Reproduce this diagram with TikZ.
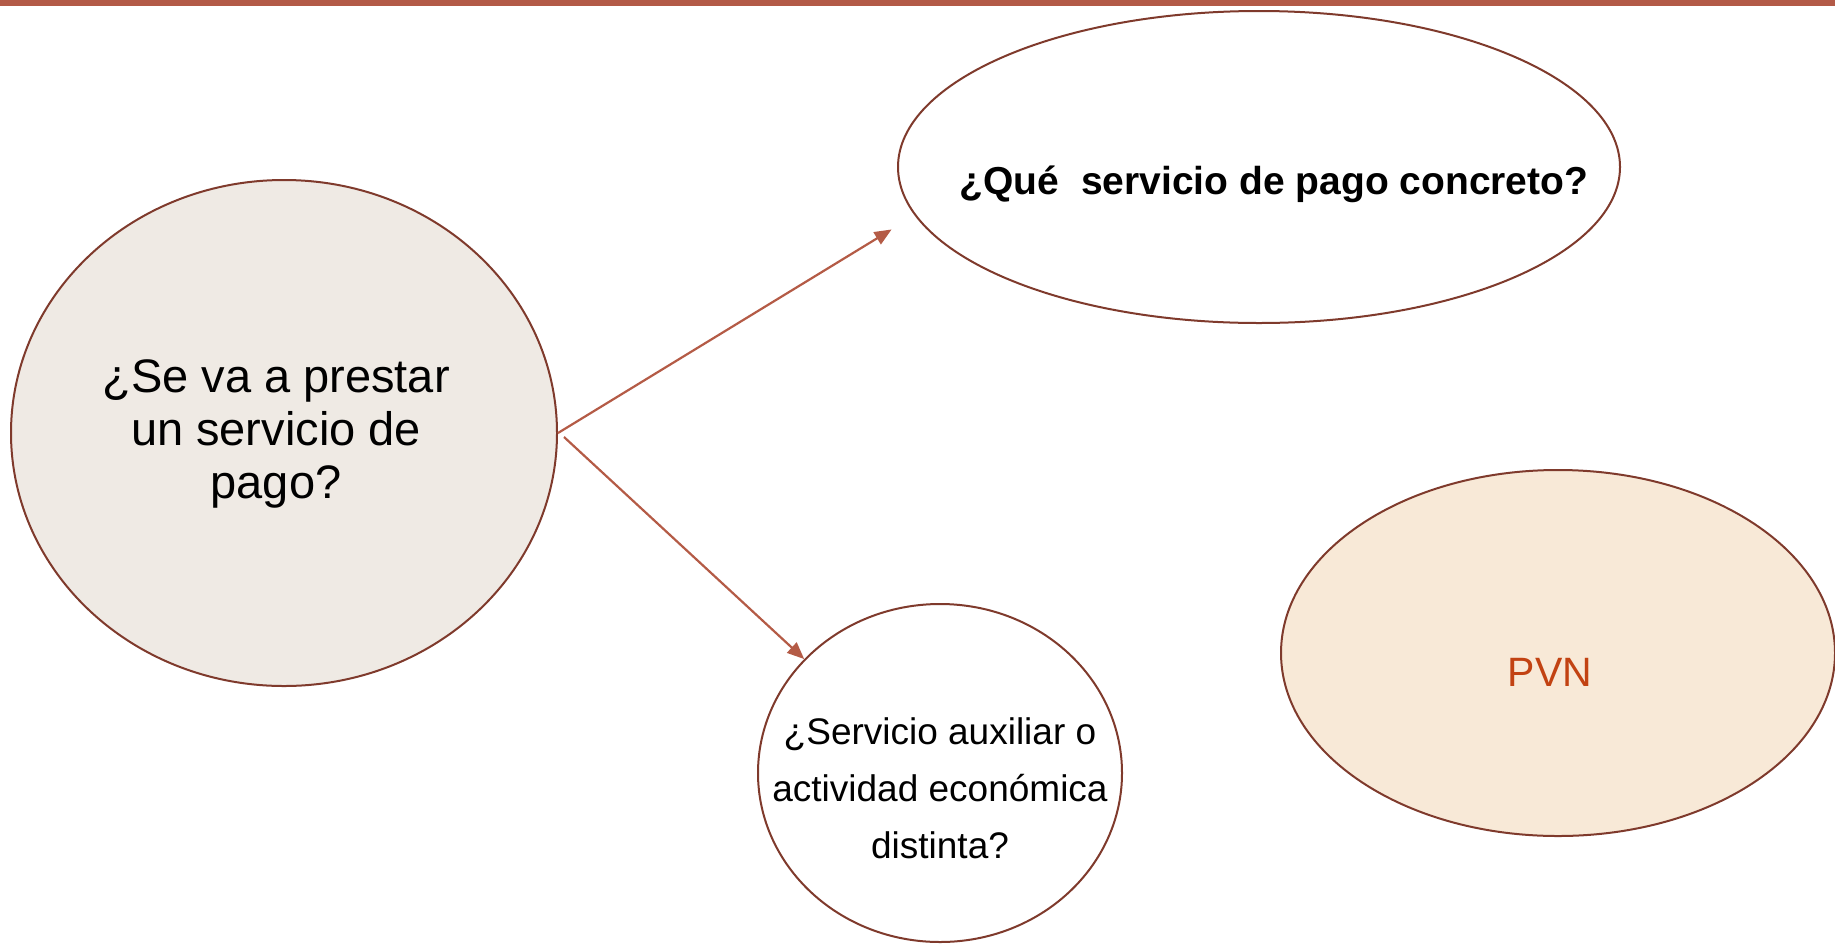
\documentclass[tikz,border=0pt]{standalone}
\usepackage{fontspec}
\setmainfont{Liberation Sans}
\usetikzlibrary{shapes.geometric,arrows.meta}
\definecolor{bar}{HTML}{B35A47}
\definecolor{edge}{HTML}{7F3A2C}
\definecolor{arrowc}{HTML}{B45B46}
\definecolor{leftfill}{HTML}{EFEAE4}
\definecolor{pvnfill}{HTML}{F8E9D7}
\definecolor{pvntext}{HTML}{C24212}
\tikzset{
  bubble/.style={ellipse, draw=edge, line width=2pt, inner sep=0pt},
  link/.style={draw=arrowc, line width=2.2pt, -{Triangle[length=17pt,width=14pt]}}
}
\begin{document}
\begin{tikzpicture}[x=1pt,y=-1pt]
\useasboundingbox (0,0) rectangle (1835,943);
\fill[bar] (0,0) rectangle (1835,6);
\node[bubble, fill=leftfill, minimum width=546pt, minimum height=506pt,
  label={[xshift=-8pt,yshift=-1pt,align=center,font=\fontsize{47}{53}\selectfont]center:¿Se va a prestar\\un servicio de\\pago?}] (left) at (284,433) {};
\node[bubble, fill=white, minimum width=722pt, minimum height=312pt,
  label={[xshift=15pt,yshift=-17pt,font=\fontsize{39}{45}\selectfont\bfseries]center:¿Qué\ \ servicio de pago concreto?}] (top) at (1259,167) {};
\node[bubble, fill=white, minimum width=364pt, minimum height=338pt,
  label={[yshift=-15pt,align=center,font=\fontsize{37}{57}\selectfont]center:¿Servicio auxiliar o\\actividad económica\\distinta?}] (bot) at (940,773) {};
\node[bubble, fill=pvnfill, minimum width=554pt, minimum height=366pt,
  label={[xshift=-8pt,yshift=-19pt,text=pvntext,font=\fontsize{41}{48}\selectfont]center:PVN}] (pvn) at (1558,653) {};
\draw[link, shorten >=27pt] (left.east) -- (top.188);
\draw[link] ([shift={(6pt,-4pt)}]left.east) -- (bot.140);
\end{tikzpicture}
\end{document}
